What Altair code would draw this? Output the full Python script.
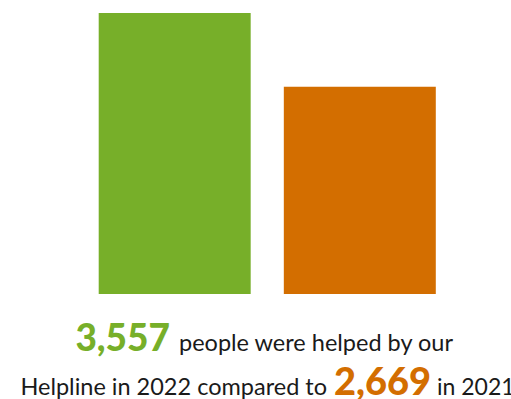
import altair as alt
import pandas as pd

years = ["2022", "2021"]
helped = [3557, 2669]
colors = ["#77AF29", "#D36E00"]
BASE = 175  # visual baseline of the bars

line1_num = "3,557"
line1_rest = "people were helped by our"
line2_start = "Helpline in 2022 compared to"
line2_num = "2,669"
line2_end = "in 2021"

df = pd.DataFrame({"year": years, "helped": helped, "color": colors})

PLOT_H = 281
TOP = 13

bars = alt.Chart(df).mark_bar().encode(
    x=alt.X("year:N", sort=years, axis=None,
            scale=alt.Scale(range=[98.7, 435.8], paddingInner=0.179, paddingOuter=0)),
    y=alt.Y("helped:Q", axis=None,
            scale=alt.Scale(domain=[BASE, max(helped)], zero=False, nice=False)),
    y2=alt.datum(BASE),
    color=alt.Color("color:N", scale=None, legend=None),
)

def txt(s, x, y, size, color, weight="normal", align="left", font="Lato"):
    return alt.Chart(pd.DataFrame({"t": [s]})).mark_text(
        align=align, baseline="alphabetic", fontSize=size, font=font,
        fontWeight=weight, color=color,
    ).encode(text="t:N", x=alt.value(x), y=alt.value(y))

y1 = 351 - TOP
y2 = 395 - TOP
layers = [
    bars,
    txt(line1_num, 170, y1, 37, colors[0], weight=900, align="right"),
    txt(line1_rest, 179, y1, 23.5, "#1a1a1a"),
    txt(line2_start, 327, y2, 23.5, "#1a1a1a", align="right"),
    txt(line2_num, 334, y2, 38, colors[1], weight=900),
    txt(line2_end, 437, y2, 23, "#1a1a1a"),
]

chart = alt.layer(*layers).properties(
    width=511, height=PLOT_H,
    autosize=alt.AutoSizeParams(type="none"),
    padding={"top": TOP, "left": 0, "right": 0, "bottom": 399 - TOP - PLOT_H},
).configure_view(stroke=None)

chart.save("out.html", embed_options={"renderer": "svg", "actions": False})
